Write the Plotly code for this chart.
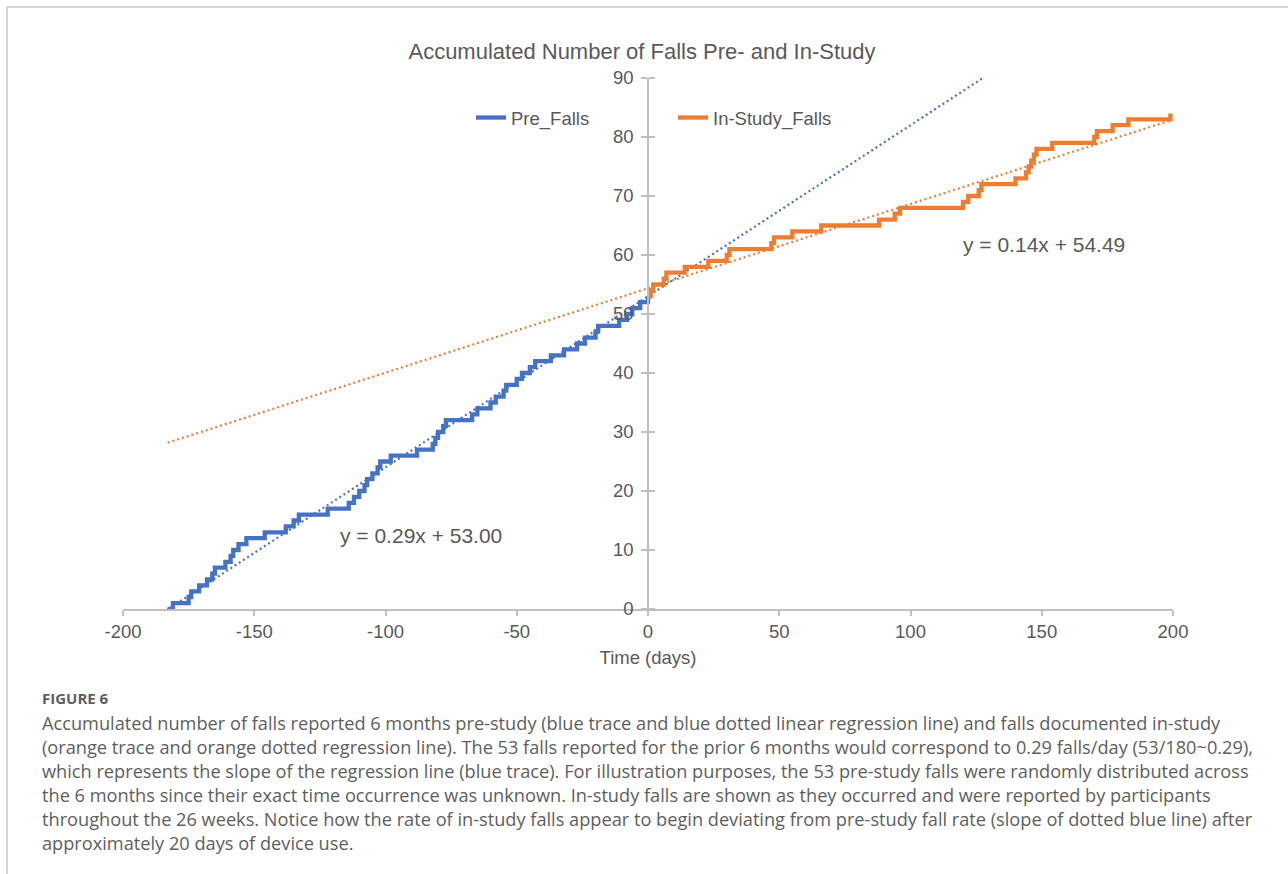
import plotly.graph_objects as go

# ---------------- data ----------------
pre_days = [-183, -181, -175, -174, -171, -168, -166, -165, -161, -159, -158, -156, -153,
            -146, -138, -135, -133, -122, -114, -112, -110, -108, -107, -105, -103, -102,
            -98, -88, -82, -81, -80, -78, -77, -67, -65, -60, -58, -55, -54, -50, -48,
            -45, -43, -37, -32, -27, -24, -20, -19, -11, -8, -6, -3, 0]
pre_counts = list(range(0, 54))

in_days = [0, 1, 2, 6, 7, 14, 23, 30, 31, 47, 48, 55, 66, 88, 94, 96, 120, 122, 126, 127,
           140, 144, 145, 146, 147, 148, 154, 170, 171, 177, 183, 199]
in_counts = list(range(53, 85))

# regression lines (label coefficients and drawn extents)
pre_fit = {"slope": 0.29, "intercept": 53.00, "x_range": [-183, 130], "label": "y = 0.29x + 53.00"}
in_fit = {"slope": 0.143, "intercept": 54.35, "x_range": [-183, 199], "label": "y = 0.14x + 54.49"}

x_ticks = [-200, -150, -100, -50, 0, 50, 100, 150, 200]
x_tick_text = ["-200", "-150", "-100", "-50", "0", "50", "100", "150", "200"]
y_ticks = [0, 10, 20, 30, 40, 50, 60, 70, 80, 90]

title = "Accumulated Number of Falls Pre- and In-Study"
caption_head = "FIGURE 6"
caption_lines = [
    "Accumulated number of falls reported 6 months pre-study (blue trace and blue dotted linear regression line) and falls documented in-study",
    "(orange trace and orange dotted regression line). The 53 falls reported for the prior 6 months would correspond to 0.29 falls/day (53/180~0.29),",
    "which represents the slope of the regression line (blue trace). For illustration purposes, the 53 pre-study falls were randomly distributed across",
    "the 6 months since their exact time occurrence was unknown. In-study falls are shown as they occurred and were reported by participants",
    "throughout the 26 weeks. Notice how the rate of in-study falls appear to begin deviating from pre-study fall rate (slope of dotted blue line) after",
    "approximately 20 days of device use.",
]

# ---------------- style ----------------
W, H = 1288, 874
L, R, T, B = 123, 1173, 78, 609   # plot area pixels
BLUE = "#4472C4"
ORANGE = "#ED7D31"
TXT = "#595959"
AXC = "#BFBFBF"
FONT = "Liberation Sans, Arial, sans-serif"
CAP_FONT = "Open Sans, sans-serif"
CAP_COL = "#5E5E5E"


def px_x(p):
    return (p - L) / (R - L)


def px_y(p):
    return (B - p) / (B - T)


def line_pts(fit):
    xs = fit["x_range"]
    return xs, [fit["slope"] * x + fit["intercept"] for x in xs]


fig = go.Figure()

tx, ty = line_pts(pre_fit)
fig.add_trace(go.Scatter(x=tx, y=ty, mode="lines", showlegend=False,
                         line=dict(color=BLUE, width=2.2, dash="2px,3px"), hoverinfo="skip"))
tx, ty = line_pts(in_fit)
fig.add_trace(go.Scatter(x=tx, y=ty, mode="lines", showlegend=False,
                         line=dict(color=ORANGE, width=2.2, dash="2px,3px"), hoverinfo="skip"))

fig.add_trace(go.Scatter(x=pre_days, y=pre_counts, mode="lines", name="Pre_Falls",
                         line=dict(color=BLUE, width=4.3, shape="hv")))
fig.add_trace(go.Scatter(x=in_days, y=in_counts, mode="lines", name="In-Study_Falls",
                         line=dict(color=ORANGE, width=4.3, shape="hv")))
# invisible trace for the mirrored tick axis
fig.add_trace(go.Scatter(x=[0], y=[0], yaxis="y2", mode="markers", showlegend=False,
                         marker=dict(opacity=0), hoverinfo="skip"))

fig.update_layout(
    width=W, height=H,
    margin=dict(l=L, r=W - R, t=T, b=H - B),
    paper_bgcolor="white", plot_bgcolor="white",
    font=dict(family=FONT, color=TXT, size=18.5),
    title=dict(text=title, x=642 / W, xanchor="center", y=1 - 51 / H, yanchor="middle",
               yref="container", xref="container", font=dict(size=22, color=TXT, family=FONT)),
    xaxis=dict(range=[-200, 200], tickvals=x_ticks, ticktext=x_tick_text, showgrid=False,
               zeroline=False, showline=True, linecolor=AXC, linewidth=1.5, ticks="outside",
               ticklen=5, tickcolor=AXC, tickwidth=1.5, tickfont=dict(size=18.5, color=TXT),
               title=dict(text="Time (days)", font=dict(size=18.5, color=TXT), standoff=10)),
    yaxis=dict(range=[0, 90], tickvals=y_ticks, showgrid=False, zeroline=False,
               anchor="free", position=0.5, showline=True, linecolor=AXC, linewidth=1.5,
               ticks="outside", ticklen=6, tickcolor=AXC, tickwidth=1.5,
               tickfont=dict(size=18.5, color=TXT), ticklabelstandoff=4),
    yaxis2=dict(range=[0, 90], tickvals=y_ticks, overlaying="y", side="right",
                anchor="free", position=0.5, showgrid=False, zeroline=False,
                showline=False, ticks="outside", ticklen=6, tickcolor=AXC, tickwidth=1.5,
                showticklabels=False),
    legend=dict(orientation="h", x=px_x(471), y=px_y(118), xanchor="left", yanchor="middle",
                bgcolor="rgba(0,0,0,0)", font=dict(size=18.5, color=TXT),
                entrywidth=157, entrywidthmode="pixels", itemwidth=30),
    showlegend=True,
)

# regression equations
fig.add_annotation(x=-86.5, y=12.4, xref="x", yref="y", text=pre_fit["label"],
                   showarrow=False, font=dict(size=21, color=TXT, family=FONT))
fig.add_annotation(x=150.8, y=61.7, xref="x", yref="y", text=in_fit["label"],
                   showarrow=False, font=dict(size=21, color=TXT, family=FONT))

# caption
fig.add_annotation(x=px_x(40), y=px_y(698), xref="paper", yref="paper", text="<b>" + caption_head + "</b>",
                   showarrow=False, xanchor="left", yanchor="middle",
                   font=dict(size=15, color=CAP_COL, family=CAP_FONT))
for i, line in enumerate(caption_lines):
    fig.add_annotation(x=px_x(40), y=px_y(723 + 24 * i), xref="paper", yref="paper", text=line,
                       showarrow=False, xanchor="left", yanchor="middle",
                       font=dict(size=18.2, color=CAP_COL, family=CAP_FONT))

# frame lines (top and left)
fig.add_shape(type="line", xref="paper", yref="paper", x0=px_x(7), x1=px_x(W), y0=px_y(7), y1=px_y(7),
              line=dict(color="#C8C8C8", width=1.5))
fig.add_shape(type="line", xref="paper", yref="paper", x0=px_x(7), x1=px_x(7), y0=px_y(7), y1=px_y(H),
              line=dict(color="#C8C8C8", width=1.5))

fig.write_html("out.html")
